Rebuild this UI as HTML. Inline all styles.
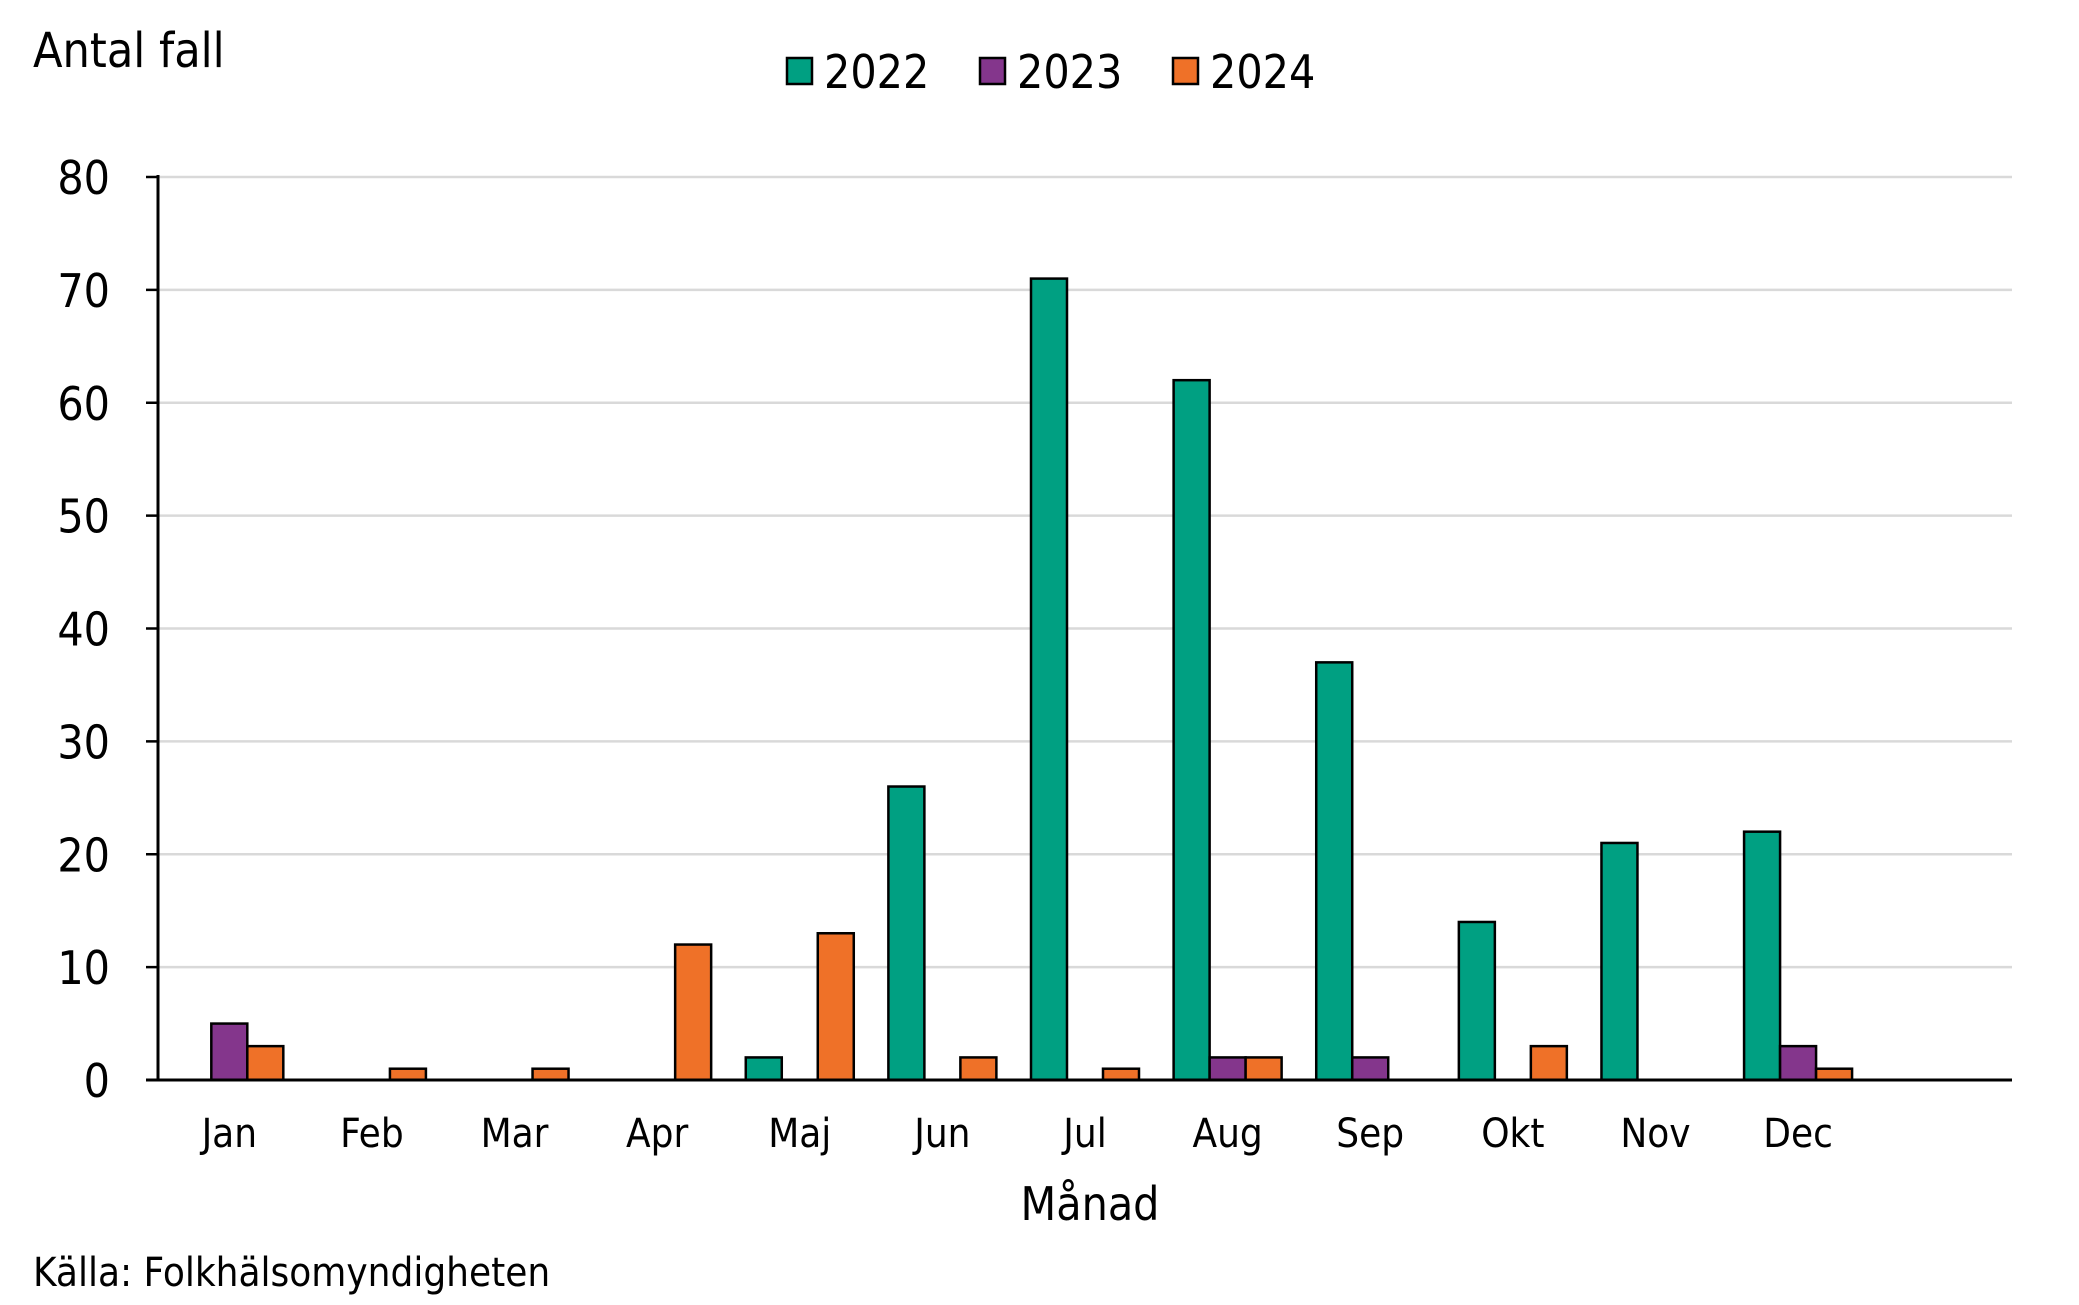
<!DOCTYPE html>
<html><head><meta charset="utf-8"><style>
body{margin:0;background:#fff;}
svg text{font-family:"DejaVu Sans Condensed","Liberation Sans",sans-serif;fill:#000;}
</style></head><body>
<svg id="chart" width="2079" height="1300" xmlns="http://www.w3.org/2000/svg">
<text x="33" y="67" font-size="48">Antal fall</text>
<g>
<rect x="787" y="58" width="25" height="26" fill="#00A082" stroke="#000" stroke-width="2.5"/>
<text x="824" y="88" font-size="46">2022</text>
<rect x="980" y="58" width="25" height="26" fill="#84368C" stroke="#000" stroke-width="2.5"/>
<text x="1017" y="88" font-size="46">2023</text>
<rect x="1173" y="58" width="25" height="26" fill="#EF7128" stroke="#000" stroke-width="2.5"/>
<text x="1210" y="88" font-size="46">2024</text>
</g>
<g id="grid"></g><g id="bars"></g><g id="axes"></g>
<text x="1090" y="1220" font-size="46" text-anchor="middle">Månad</text>
<text x="33" y="1286" font-size="40">Källa: Folkhälsomyndigheten</text>
</svg>
<script>
const months=["Jan","Feb","Mar","Apr","Maj","Jun","Jul","Aug","Sep","Okt","Nov","Dec"];
const v2022=[0,0,0,0,2,26,71,62,37,14,21,22];
const v2023=[5,0,0,0,0,0,0,2,2,0,0,3];
const v2024=[3,1,1,12,13,2,1,2,0,3,0,1];
const yTicks=[0,10,20,30,40,50,60,70,80];
const NS="http://www.w3.org/2000/svg";
const X0=158,X1=2012,Y0=1080,Y80=177,nCat=13;
const step=(X1-X0)/nCat;
function y(v){return Y0-(Y0-Y80)*v/80;}
function xc(i){return X0+step*(i+0.5);}
function mk(tag,attrs,parent){const e=document.createElementNS(NS,tag);for(const k in attrs)e.setAttribute(k,attrs[k]);parent.appendChild(e);return e;}
const grid=document.getElementById('grid'),bars=document.getElementById('bars'),axes=document.getElementById('axes');
yTicks.forEach(t=>{
  if(t>0){const g=mk('line',{x1:X0,x2:X1,y1:y(t),y2:y(t),stroke:'#d9d9d9','stroke-width':2.5},grid);
  
  }
  const tk=mk('line',{x1:X0-12,x2:X0,y1:y(t),y2:y(t),stroke:'#000','stroke-width':2.5},axes);
  
  
  const tx=mk('text',{x:110,y:y(t)+17,'font-size':46,'text-anchor':'end'},axes);
  tx.textContent=t;
  
  
});
const series=[[v2022,'#00A082','2022'],[v2023,'#84368C','2023'],[v2024,'#EF7128','2024']];
const bw=36;
months.forEach((m,i)=>{
  series.forEach((s,j)=>{
    const v=s[0][i];
    if(v>0){
      const r=mk('rect',{x:xc(i)+(j-1.5)*bw,y:y(v),width:bw,height:Y0-y(v),fill:s[1],stroke:'#000','stroke-width':2.5},bars);
      
      
    }
  });
  const t=mk('text',{x:xc(i),y:1147,'font-size':40,'text-anchor':'middle'},axes);
  t.textContent=m;
  
  
});
const ya=mk('line',{x1:X0,x2:X0,y1:Y80-2,y2:Y0,stroke:'#000','stroke-width':3},axes);


const xa=mk('line',{x1:X0-12,x2:X1,y1:Y0,y2:Y0,stroke:'#000','stroke-width':3},axes);


</script>
</body></html>
